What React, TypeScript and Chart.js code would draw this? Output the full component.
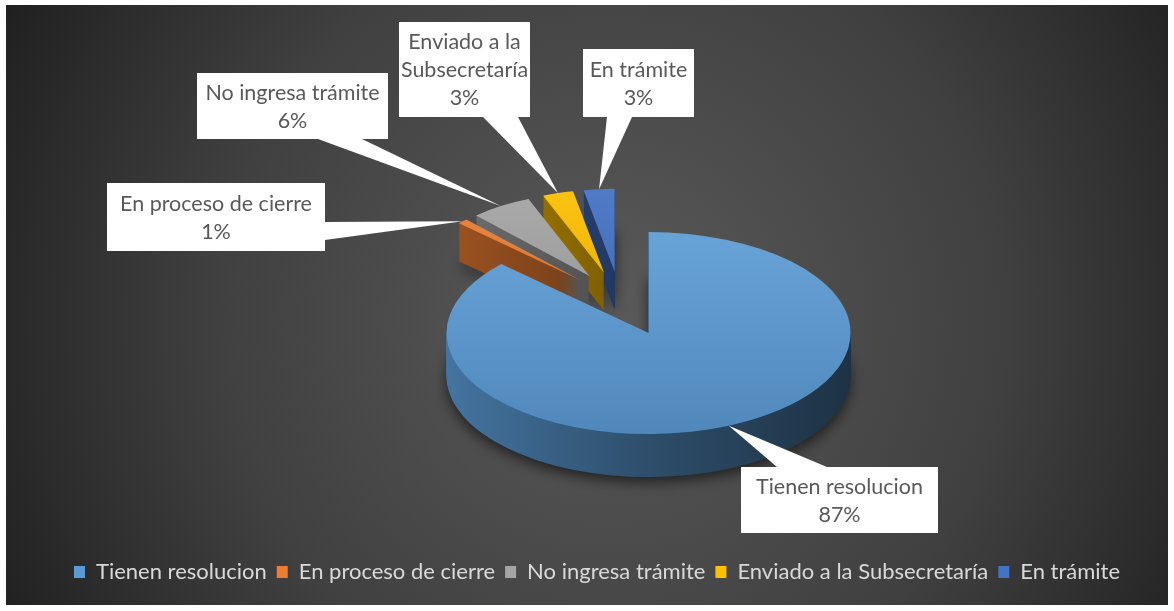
import React, { useEffect, useRef } from 'react';
import { Chart, registerables } from 'chart.js';
Chart.register(...registerables);

// ---- data ----
const categories = ['Tienen resolucion', 'En proceso de cierre', 'No ingresa trámite', 'Enviado a la Subsecretaría', 'En trámite'];
const percentages = [87, 1, 6, 3, 3];
const sliceColors = ['#5B9BD5', '#ED7D31', '#A5A5A5', '#FFC000', '#4472C4'];

// ---- layout / style ----
const FONT = 'Lato, "Noto Sans", sans-serif';
const W = 1174, H = 611;
const FRAME = { x: 6, y: 5, w: 1162, h: 600 };
const PIE = { cx: 620, cy: 300, r: 202, k: 0.5 };
const EXPLODE = [72, 57, 57, 57, 57];
const RSCALE = [1, 0.82, 0.82, 0.82, 0.82];
const DEPTH = [43, 38, 38, 38, 38];
const TIP_R = [1.0, 1.0, 1.0, 1.0, 1.0];
const CALLOUTS = [
  { box: [741, 467, 197, 66], base: [[777, 467], [827, 467]] },
  { box: [107, 183, 218, 68], base: [[325, 222], [325, 240]] },
  { box: [197, 73, 191, 66], base: [[318, 139], [362, 139]] },
  { box: [399, 22, 131, 95], base: [[483, 117], [518, 117]] },
  { box: [583, 49, 111, 68], base: [[607, 117], [632, 117]] },
];
const LABEL_FONT_SIZE = 21.5;
const LEGEND_FONT_SIZE = 22;
const LINE_H = 28;

function hexToRgb(h: string) {
  const n = parseInt(h.slice(1), 16);
  return [(n >> 16) & 255, (n >> 8) & 255, n & 255];
}
function shade(h: string, f: number) {
  const [r, g, b] = hexToRgb(h);
  return `rgb(${Math.round(r * f)},${Math.round(g * f)},${Math.round(b * f)})`;
}
function tint(h: string, f: number) {
  const [r, g, b] = hexToRgb(h);
  return `rgb(${Math.round(r + (255 - r) * f)},${Math.round(g + (255 - g) * f)},${Math.round(b + (255 - b) * f)})`;
}

function wrap(ctx: CanvasRenderingContext2D, text: string, maxW: number) {
  const words = text.split(' ');
  const lines: string[] = [];
  let cur = '';
  for (const w of words) {
    const test = cur ? cur + ' ' + w : w;
    if (ctx.measureText(test).width > maxW && cur) {
      lines.push(cur);
      cur = w;
    } else cur = test;
  }
  if (cur) lines.push(cur);
  return lines;
}

const pie3dPlugin = {
  id: 'pie3d',
  beforeDraw(chart: any) {
    const ctx = chart.ctx as CanvasRenderingContext2D;
    ctx.save();
    ctx.fillStyle = '#ffffff';
    ctx.fillRect(0, 0, W, H);
    const g = ctx.createRadialGradient(610, 320, 0, 610, 320, 720);
    g.addColorStop(0, '#5a5a5a');
    g.addColorStop(0.55, '#404040');
    g.addColorStop(1, '#1c1c1c');
    ctx.fillStyle = g;
    ctx.fillRect(FRAME.x, FRAME.y, FRAME.w, FRAME.h);
    ctx.restore();
  },
  beforeDatasetsDraw(chart: any) {
    const ctx = chart.ctx as CanvasRenderingContext2D;
    const meta = chart.getDatasetMeta(0);
    const arcs = meta.data as any[];
    if (!arcs.length) return false;
    const cx0 = arcs[0].x, cy0 = arcs[0].y, R = arcs[0].outerRadius;
    const idx = arcs.map((_: any, i: number) => i);
    const mid = (a: any) => (a.startAngle + a.endAngle) / 2;
    idx.sort((a, b) => Math.sin(mid(arcs[a])) - Math.sin(mid(arcs[b])));
    const drawArc = (i: number, d: number, fill: any, shadow: boolean) => {
      const a = arcs[i];
      const m = mid(a);
      const ex = Math.cos(m) * EXPLODE[i];
      const ey = Math.sin(m) * EXPLODE[i];
      ctx.save();
      ctx.translate(PIE.cx, PIE.cy + d);
      ctx.scale(1, PIE.k);
      ctx.translate(-cx0, -cy0);
      if (shadow) {
        ctx.shadowColor = 'rgba(0,0,0,0.6)';
        ctx.shadowBlur = 14;
        ctx.shadowOffsetY = 5;
      }
      const orig = a.options;
      const origR = a.outerRadius;
      a.options = { ...orig, backgroundColor: fill, borderWidth: 0, offset: 0 };
      a.outerRadius = origR * RSCALE[i];
      ctx.translate(ex, ey);
      a.draw(ctx);
      a.options = orig;
      a.outerRadius = origR;
      ctx.restore();
    };
    for (const i of idx) {
      const c = sliceColors[i];
      const sg = ctx.createLinearGradient(cx0 - R, 0, cx0 + R, 0);
      sg.addColorStop(0, shade(c, 0.75));
      sg.addColorStop(0.5, shade(c, 0.5));
      sg.addColorStop(1, shade(c, 0.32));
      for (let d = DEPTH[i]; d >= 1; d--) {
        drawArc(i, d, sg, d === DEPTH[i]);
      }
      const tg = ctx.createLinearGradient(0, cy0 - R, 0, cy0 + R);
      tg.addColorStop(0, tint(c, 0.08));
      tg.addColorStop(1, shade(c, 0.88));
      drawArc(i, 0, tg, false);
    }
    return false;
  },
  afterDraw(chart: any) {
    const ctx = chart.ctx as CanvasRenderingContext2D;
    const meta = chart.getDatasetMeta(0);
    const arcs = meta.data as any[];
    if (!arcs.length) return;
    const cx0 = arcs[0].x, cy0 = arcs[0].y, R = arcs[0].outerRadius;
    const total = percentages.reduce((s, v) => s + v, 0);
    ctx.save();
    ctx.font = `${LABEL_FONT_SIZE}px ${FONT}`;
    arcs.forEach((a: any, i: number) => {
      const m = (a.startAngle + a.endAngle) / 2;
      const ex = Math.cos(m) * EXPLODE[i];
      const ey = Math.sin(m) * EXPLODE[i];
      const r = R * RSCALE[i] * TIP_R[i];
      const px = cx0 + ex + Math.cos(m) * r;
      const py = cy0 + ey + Math.sin(m) * r;
      const tx = PIE.cx + (px - cx0);
      const ty = PIE.cy + (py - cy0) * PIE.k;
      const co = CALLOUTS[i];
      const [bx, by, bw, bh] = co.box;
      ctx.fillStyle = '#ffffff';
      ctx.beginPath();
      ctx.moveTo(co.base[0][0], co.base[0][1]);
      ctx.lineTo(co.base[1][0], co.base[1][1]);
      ctx.lineTo(tx, ty);
      ctx.closePath();
      ctx.fill();
      ctx.fillRect(bx, by, bw, bh);
      const pct = Math.round((percentages[i] / total) * 100) + '%';
      const lines = [...wrap(ctx, categories[i], bw - 6), pct];
      ctx.fillStyle = '#595959';
      ctx.textAlign = 'center';
      ctx.textBaseline = 'middle';
      const cyText = by + bh / 2;
      lines.forEach((ln, j) => {
        ctx.fillText(ln, bx + bw / 2, cyText + (j - (lines.length - 1) / 2) * LINE_H + 1);
      });
    });
    ctx.restore();
  },
};

export default function App() {
  const ref = useRef<HTMLCanvasElement | null>(null);
  useEffect(() => {
    if (!ref.current) return;
    const chart = new Chart(ref.current, {
      type: 'pie',
      data: {
        labels: categories,
        datasets: [
          {
            data: percentages,
            backgroundColor: sliceColors,
            borderWidth: 0,
            radius: PIE.r,
          } as any,
        ],
      },
      options: {
        responsive: false,
        animation: false,
        events: [],
        layout: { padding: { top: 0, left: 20, right: 0, bottom: 18 } },
        plugins: {
          tooltip: { enabled: false },
          legend: {
            position: 'bottom',
            labels: {
              color: '#d9d9d9',
              font: { family: FONT, size: LEGEND_FONT_SIZE },
              boxWidth: 11,
              boxHeight: 12,
              padding: 10,
            },
          },
        },
      },
      plugins: [pie3dPlugin],
    });
    return () => chart.destroy();
  }, []);
  return (
    <div style={{ position: 'absolute', left: 0, top: 0, width: W, height: H }}>
      <canvas ref={ref} width={W} height={H} style={{ display: 'block', width: W, height: H }} />
    </div>
  );
}
